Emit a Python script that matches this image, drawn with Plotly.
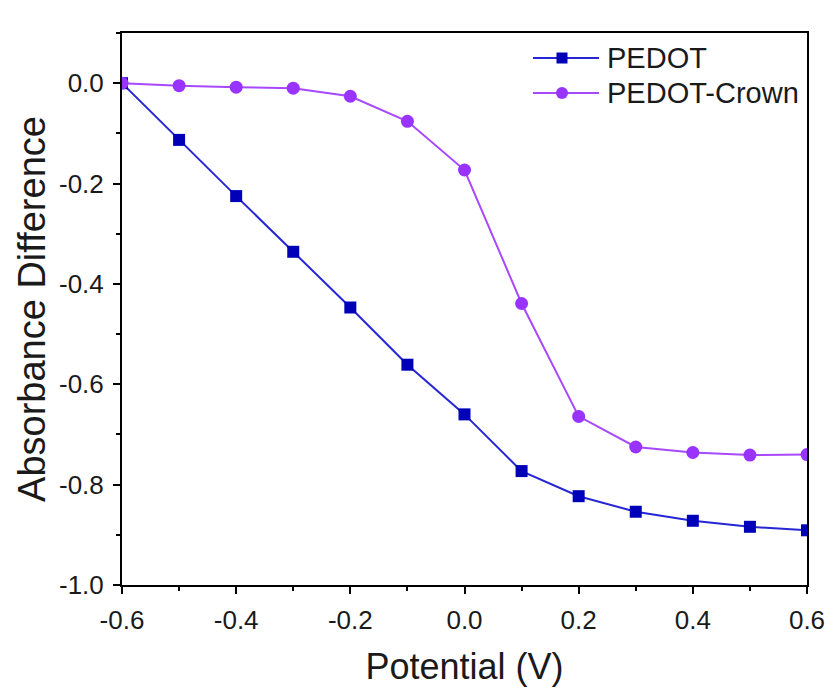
import plotly.graph_objects as go

potential = [-0.6, -0.5, -0.4, -0.3, -0.2, -0.1, 0.0, 0.1, 0.2, 0.3, 0.4, 0.5, 0.6]
pedot = [0.0, -0.113, -0.225, -0.336, -0.447, -0.561, -0.660, -0.773, -0.823, -0.854, -0.872, -0.884, -0.891]
pedot_crown = [0.0, -0.005, -0.008, -0.010, -0.026, -0.076, -0.173, -0.439, -0.664, -0.725, -0.736, -0.741, -0.740]
series_names = ["PEDOT", "PEDOT-Crown"]

x_ticks = [-0.6, -0.4, -0.2, 0.0, 0.2, 0.4, 0.6]
x_ticktext = ["-0.6", "-0.4", "-0.2", "0.0", "0.2", "0.4", "0.6"]
y_ticks = [0.0, -0.2, -0.4, -0.6, -0.8, -1.0]
y_ticktext = ["0.0", "-0.2", "-0.4", "-0.6", "-0.8", "-1.0"]

FONT = "Liberation Sans, Arial"
TXT = "#1a1a1a"
W, H = 831, 689
ML, MR, MT, MB = 122, 24, 33, 104
PW, PH = W - ML - MR, H - MT - MB

line_colors = ["#2626d4", "#a848ff"]
marker_colors = ["#0000b8", "#9933ff"]
symbols = ["square", "circle"]

fig = go.Figure()
for name, ys, lc, mc, sym, ms in zip(series_names, [pedot, pedot_crown], line_colors,
                                     marker_colors, symbols, [12, 13]):
    fig.add_trace(go.Scatter(
        x=potential, y=ys, name=name, mode="lines+markers",
        line=dict(color=lc, width=2),
        marker=dict(symbol=sym, size=ms, color=mc),
        showlegend=False,
    ))

# manual legend (styling only), positioned in pixel terms
def px_x(p):
    return (p - ML) / PW

def px_y(p):
    return (H - MB - p) / PH

legend_rows_px = [58, 93]
for name, lc, mc, sym, ry in zip(series_names, line_colors, marker_colors, symbols, legend_rows_px):
    fig.add_shape(type="line", xref="paper", yref="paper",
                  x0=px_x(533), x1=px_x(599), y0=px_y(ry), y1=px_y(ry),
                  line=dict(color=lc, width=2))
    half = 5.5 if sym == "square" else 6
    fig.add_shape(type="rect" if sym == "square" else "circle", xref="paper", yref="paper",
                  x0=px_x(562 - half), x1=px_x(562 + half),
                  y0=px_y(ry - half), y1=px_y(ry + half),
                  fillcolor=mc, line=dict(width=0))
    fig.add_annotation(text=name, xref="paper", yref="paper",
                       x=px_x(605), y=px_y(ry), xanchor="left", yanchor="middle",
                       showarrow=False, font=dict(family=FONT, size=29, color=TXT))

axis_common = dict(
    showline=True, linecolor="black", linewidth=2, mirror=True,
    ticks="outside", ticklen=7, tickwidth=2, tickcolor="black",
    showgrid=False, zeroline=False, automargin=False,
    tickfont=dict(family=FONT, size=26, color=TXT),
)

fig.update_layout(
    width=W, height=H,
    paper_bgcolor="white", plot_bgcolor="white",
    margin=dict(l=ML, r=MR, t=MT, b=MB),
    showlegend=False,
    xaxis=dict(
        range=[-0.6, 0.6], tickvals=x_ticks, ticktext=x_ticktext,
        ticklabelstandoff=4,
        minor=dict(dtick=0.1, ticks="outside", ticklen=4, tickwidth=2, tickcolor="black"),
        title=dict(text="Potential (V)", font=dict(family=FONT, size=36, color=TXT), standoff=20),
        **axis_common,
    ),
    yaxis=dict(
        range=[-1.0, 0.1], tickvals=y_ticks, ticktext=y_ticktext,
        ticklabelstandoff=4,
        minor=dict(dtick=0.1, tick0=0, ticks="outside", ticklen=4, tickwidth=2, tickcolor="black"),
        title=dict(text="Absorbance Difference", font=dict(family=FONT, size=38, color=TXT), standoff=2),
        **axis_common,
    ),
)

fig.write_html("out.html")
